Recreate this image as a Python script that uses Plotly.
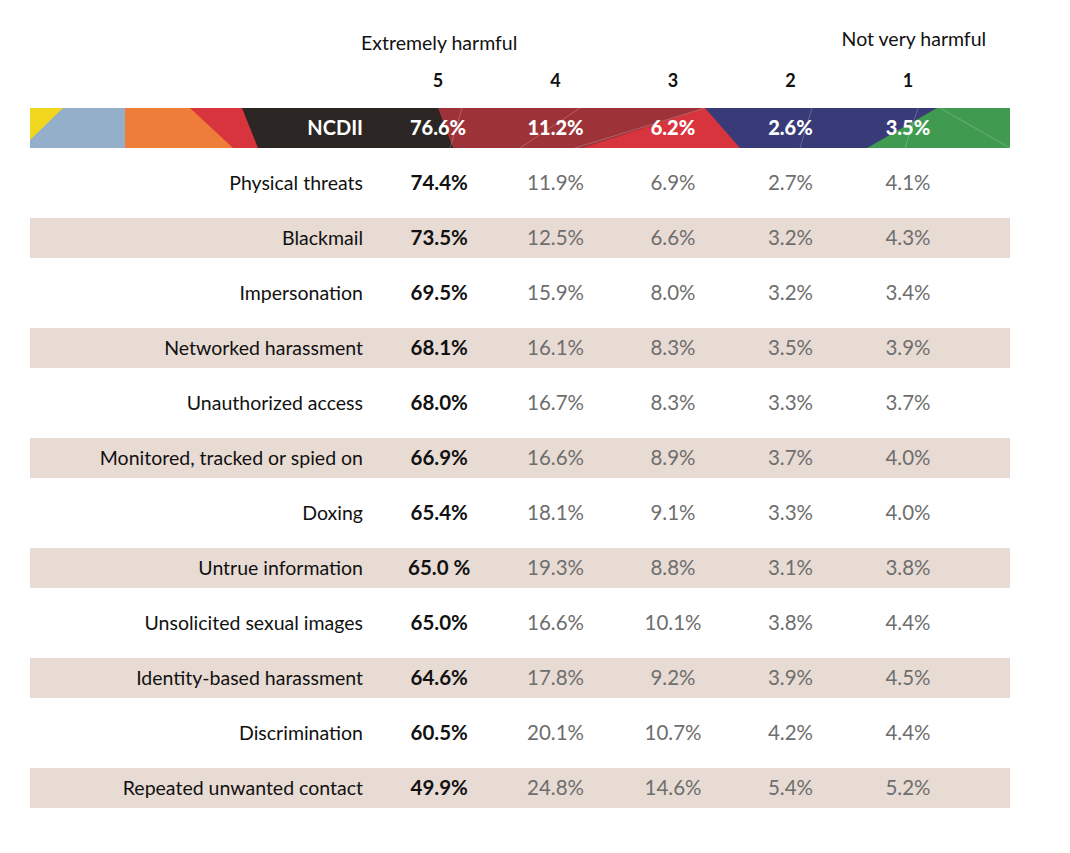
import plotly.graph_objects as go

# ---------------- data ----------------
scale_labels = ["5", "4", "3", "2", "1"]
header_label = "NCDII"
header_values = ["76.6%", "11.2%", "6.2%", "2.6%", "3.5%"]
categories = [
    "Physical threats", "Blackmail", "Impersonation", "Networked harassment",
    "Unauthorized access", "Monitored, tracked or spied on", "Doxing",
    "Untrue information", "Unsolicited sexual images", "Identity-based harassment",
    "Discrimination", "Repeated unwanted contact",
]
col5 = ["74.4%", "73.5%", "69.5%", "68.1%", "68.0%", "66.9%", "65.4%", "65.0 %", "65.0%", "64.6%", "60.5%", "49.9%"]
col4 = ["11.9%", "12.5%", "15.9%", "16.1%", "16.7%", "16.6%", "18.1%", "19.3%", "16.6%", "17.8%", "20.1%", "24.8%"]
col3 = ["6.9%", "6.6%", "8.0%", "8.3%", "8.3%", "8.9%", "9.1%", "8.8%", "10.1%", "9.2%", "10.7%", "14.6%"]
col2 = ["2.7%", "3.2%", "3.2%", "3.5%", "3.3%", "3.7%", "3.3%", "3.1%", "3.8%", "3.9%", "4.2%", "5.4%"]
col1 = ["4.1%", "4.3%", "3.4%", "3.9%", "3.7%", "4.0%", "4.0%", "3.8%", "4.4%", "4.5%", "4.4%", "5.2%"]
top_left_title = "Extremely harmful"
top_right_title = "Not very harmful"

# ---------------- layout helpers ----------------
W, H = 1070, 853
OFF = 8                 # page body margin
X0, XU = 438.0, 117.5   # pixel of column "5", pixels per column
Y0, YU = 128.0, 55.0    # pixel of header row, pixels per row
def dx(p): return (p - X0) / XU
def dy(p): return (p - Y0) / YU
TY = 2 / YU             # small downward nudge for text

FONT = "Lato"
row_idx = list(range(1, len(categories) + 1))
txt_y = [r + TY for r in row_idx]
cols_x = list(range(len(scale_labels)))
left_edge, right_edge = dx(30), dx(1010)
band = 40 / YU

fig = go.Figure()

# shaded alternate rows
shaded = [r for r in row_idx if r % 2 == 0]
fig.add_trace(go.Bar(
    y=shaded, x=[right_edge - left_edge] * len(shaded), base=left_edge,
    orientation="h", width=band, marker=dict(color="#e8dbd4", line=dict(width=0)),
    hoverinfo="skip", showlegend=False))

# header bar polygons (decorative)
polys = [
    ("#93afc9", [(30, 108), (1010, 108), (1010, 148), (30, 148)]),
    ("#ef7d3a", [(125, 108), (1010, 108), (1010, 148), (125, 148)]),
    ("#d8343d", [(190, 108), (1010, 108), (1010, 148), (233, 148)]),
    ("#2b2624", [(242, 108), (1010, 108), (1010, 148), (258, 148)]),
    ("#9d3339", [(438, 108), (1010, 108), (1010, 148), (453, 148)]),
    ("#d8343d", [(705, 108), (1010, 108), (1010, 148), (583, 148)]),
    ("#393a78", [(705, 108), (1010, 108), (1010, 148), (740, 148)]),
    ("#409a50", [(937, 108), (1010, 108), (1010, 148), (867, 148)]),
    ("#f0d71e", [(30, 108), (63, 108), (30, 140)]),
]
for col, pts in polys:
    path = "M " + " L ".join(f"{dx(px):.4f},{dy(py):.4f}" for px, py in pts) + " Z"
    fig.add_shape(type="path", path=path, xref="x", yref="y",
                  fillcolor=col, line=dict(width=0), layer="below")
# faint thin lines inside the header bar
for (a, b) in [((450, 148), (462, 108)), ((520, 148), (580, 108)),
               ((575, 148), (705, 108)), ((800, 148), (812, 108)),
               ((940, 108), (1010, 148)), ((905, 148), (918, 108))]:
    fig.add_shape(type="line", x0=dx(a[0]), y0=dy(a[1]), x1=dx(b[0]), y1=dy(b[1]),
                  xref="x", yref="y", line=dict(color="rgba(255,255,255,0.22)", width=1))

# header text
fig.add_trace(go.Scatter(
    x=cols_x, y=[TY] * 5, text=header_values, mode="text",
    textfont=dict(family=FONT, size=20, color="white", weight=900),
    hoverinfo="skip", showlegend=False))
fig.add_trace(go.Scatter(
    x=[dx(363)], y=[TY], text=[header_label], mode="text", textposition="middle left",
    textfont=dict(family=FONT, size=20, color="white", weight="bold"),
    hoverinfo="skip", showlegend=False))

# scale numbers
fig.add_trace(go.Scatter(
    x=cols_x, y=[dy(82)] * 5, text=scale_labels, mode="text",
    textfont=dict(family=FONT, size=18, color="#111111", weight="bold"),
    hoverinfo="skip", showlegend=False))
fig.add_trace(go.Scatter(
    x=[0.01, 4.05], y=[dy(45), dy(41)], text=[top_left_title, top_right_title], mode="text",
    textfont=dict(family=FONT, size=19.5, color="#111111"),
    hoverinfo="skip", showlegend=False))

# category labels
fig.add_trace(go.Scatter(
    x=[dx(363)] * len(categories), y=txt_y, text=categories, mode="text",
    textposition="middle left",
    textfont=dict(family=FONT, size=19.5, color="#111111"),
    hoverinfo="skip", showlegend=False))

# values
fig.add_trace(go.Scatter(
    x=[0.01] * len(col5), y=txt_y, text=col5, mode="text",
    textfont=dict(family=FONT, size=20.5, color="#111111", weight="bold"),
    hoverinfo="skip", showlegend=False))
for i, col in enumerate([col4, col3, col2, col1], start=1):
    fig.add_trace(go.Scatter(
        x=[i] * len(col), y=txt_y, text=col, mode="text",
        textfont=dict(family=FONT, size=20.5, color="#6e6e6e"),
        hoverinfo="skip", showlegend=False))

fig.update_layout(
    width=W, height=H, margin=dict(l=0, r=0, t=0, b=0),
    paper_bgcolor="white", plot_bgcolor="white", showlegend=False,
    xaxis=dict(range=[dx(OFF), dx(W + OFF)], visible=False, fixedrange=True),
    yaxis=dict(range=[dy(H + OFF), dy(OFF)], visible=False, fixedrange=True),
    bargap=0,
)
fig.write_html("out.html")
